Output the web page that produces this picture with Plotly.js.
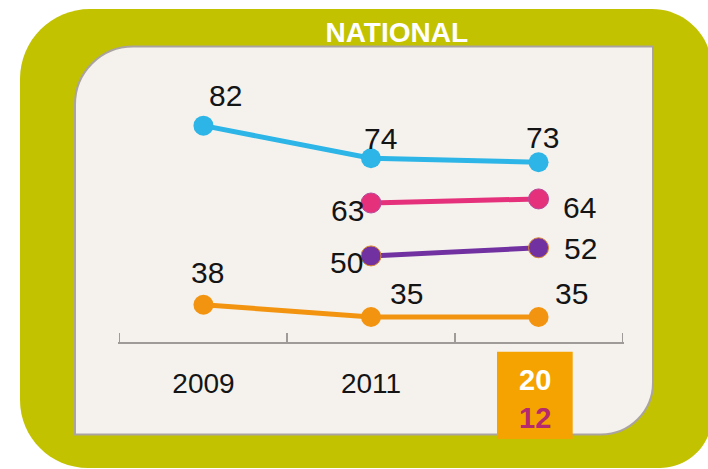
<!DOCTYPE html>
<html><head><meta charset="utf-8">
<script src="https://cdn.plot.ly/plotly-3.0.1.min.js"></script>
<style>html,body{margin:0;padding:0;background:#fff;overflow:hidden}</style>
</head><body><div id="chart" style="width:708px;height:469px"></div>
<script>
// ---- data ----
const chartTitle = 'NATIONAL';
const years = ['2009', '2011', '2012'];
const tickLabels = ['2009', '2011', ''];
const boxTop = '20';
const boxBottom = '12';
const blueValues = [82, 74, 73];
const pinkValues = [null, 63, 64];
const purpleValues = [null, 50, 52];
const orangeValues = [38, 35, 35];

// ---- styling / geometry ----
const W = 708, H = 469;
const L = 118, R = 624, T = 46, B = 342;
const px = x => (x - L) / (R - L);
const py = y => (B - y) / (B - T);
const FONT = 'Liberation Sans, Arial, sans-serif';

function roundRect(x0, y0, x1, y1, rtl, rtr, rbr, rbl) {
  const k = 0.5523;
  const P = (x, y) => px(x) + ',' + py(y);
  let d = 'M' + P(x0 + rtl, y0);
  d += ' L' + P(x1 - rtr, y0);
  if (rtr) d += ' C' + P(x1 - rtr + rtr * k, y0) + ' ' + P(x1, y0 + rtr - rtr * k) + ' ' + P(x1, y0 + rtr);
  d += ' L' + P(x1, y1 - rbr);
  if (rbr) d += ' C' + P(x1, y1 - rbr + rbr * k) + ' ' + P(x1 - rbr + rbr * k, y1) + ' ' + P(x1 - rbr, y1);
  d += ' L' + P(x0 + rbl, y1);
  if (rbl) d += ' C' + P(x0 + rbl - rbl * k, y1) + ' ' + P(x0, y1 - rbl + rbl * k) + ' ' + P(x0, y1 - rbl);
  d += ' L' + P(x0, y0 + rtl);
  if (rtl) d += ' C' + P(x0, y0 + rtl - rtl * k) + ' ' + P(x0 + rtl - rtl * k, y0) + ' ' + P(x0 + rtl, y0);
  return d + ' Z';
}

const series = [
  {v: blueValues, color: '#2cb5e6', mline: null, offs: [[22, -30], [9, -20], [4, -25]]},
  {v: pinkValues, color: '#e5307b', mline: '#b84a9a', offs: [null, [-24, 7.5], [41, 9]]},
  {v: purpleValues, color: '#7131a1', mline: '#d9872e', offs: [null, [-25, 7], [41.5, 0.5]]},
  {v: orangeValues, color: '#f39410', mline: null, offs: [[4, -32], [35, -23.5], [33, -23.5]]}
];

const traces = series.map(s => ({
  type: 'scatter', mode: 'lines+markers', x: years, y: s.v,
  line: {color: s.color, width: 5},
  marker: {color: s.color, size: 20, line: {width: s.mline ? 1 : 0, color: s.mline || s.color}},
  cliponaxis: false, hoverinfo: 'skip', showlegend: false
}));

const annotations = [];
series.forEach(s => {
  s.v.forEach((val, i) => {
    if (val === null) return;
    annotations.push({
      xref: 'x', yref: 'y', x: i, y: val, text: String(val), showarrow: false,
      xanchor: 'center', yanchor: 'middle', xshift: s.offs[i][0], yshift: -s.offs[i][1],
      font: {family: FONT, size: 30, color: '#141414'}
    });
  });
});
// year label in the highlighted box
annotations.push({
  xref: 'x', yref: 'paper', x: 2, y: py(399), xshift: -3.5,
  xanchor: 'center', yanchor: 'middle', showarrow: false,
  text: '<b>' + boxTop + '</b><br><b><span style="color:#b42a6c">' + boxBottom + '</span></b>',
  font: {family: FONT, size: 29, color: '#ffffff'}
});

const shapes = [
  {type: 'path', xref: 'paper', yref: 'paper', layer: 'below',
   path: roundRect(20, 9, 712, 468, 70, 60, 52, 68), fillcolor: '#c2c200', line: {width: 0}},
  {type: 'path', xref: 'paper', yref: 'paper', layer: 'below',
   path: roundRect(75, 46.5, 653, 434.5, 58, 0, 52, 0), fillcolor: '#f5f2ee', line: {width: 2, color: '#aaa3a0'}},
  {type: 'rect', xref: 'paper', yref: 'paper', layer: 'above',
   x0: px(497), x1: px(572.7), y0: py(351.7), y1: py(439), fillcolor: '#f5a300', line: {width: 0}}
];

const layout = {
  width: W, height: H,
  margin: {l: L, r: W - R, t: T, b: H - B, pad: 0},
  paper_bgcolor: '#ffffff', plot_bgcolor: 'rgba(0,0,0,0)',
  title: {text: '<b>' + chartTitle + '</b>', x: 396.8 / W, xref: 'container', xanchor: 'center',
          y: 1 - 32.5 / H, yref: 'container', yanchor: 'middle',
          font: {family: FONT, size: 28, color: '#ffffff'}},
  xaxis: {type: 'category', range: [-0.51, 2.51], tickvals: years, ticktext: tickLabels,
          showline: true, linecolor: '#9f9b99', linewidth: 1.5, ticks: 'inside', tickson: 'boundaries',
          ticklen: 9, tickwidth: 1.5, tickcolor: '#9f9b99', showgrid: false, zeroline: false,
          tickfont: {family: FONT, size: 28, color: '#141414'}, ticklabelstandoff: 16, fixedrange: true},
  yaxis: {range: [28.85, 101.57], visible: false, fixedrange: true},
  shapes: shapes, annotations: annotations, showlegend: false
};

Plotly.newPlot('chart', traces, layout, {staticPlot: true, displayModeBar: false});
</script></body></html>
